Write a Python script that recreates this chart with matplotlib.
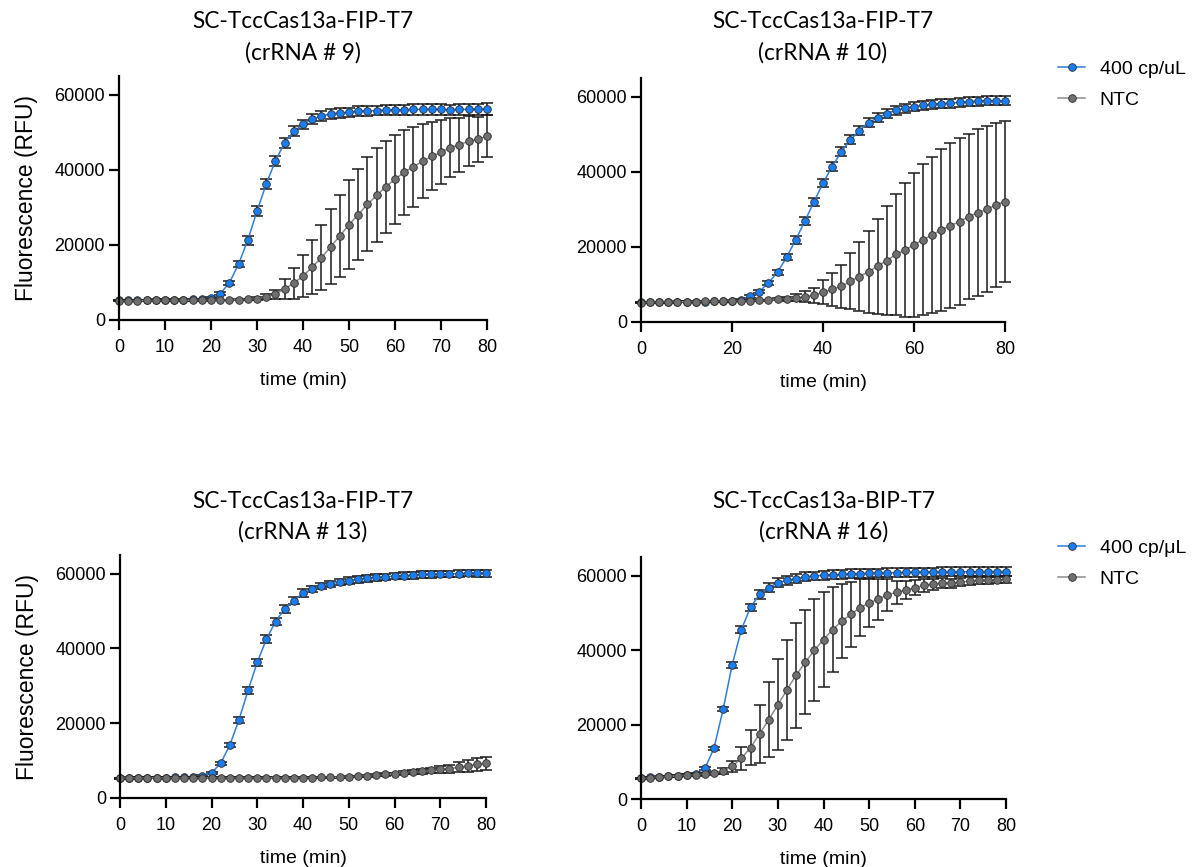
import numpy as np
import matplotlib
matplotlib.use("Agg")
import matplotlib.pyplot as plt
from matplotlib.lines import Line2D

plt.rcParams['font.family'] = ['Liberation Sans', 'DejaVu Sans']

time = list(range(0, 81, 2))

titles = ["SC-TccCas13a-FIP-T7\n(crRNA # 9)",
          "SC-TccCas13a-FIP-T7\n(crRNA # 10)",
          "SC-TccCas13a-FIP-T7\n(crRNA # 13)",
          "SC-TccCas13a-BIP-T7\n(crRNA # 16)"]

# Panel 1
p1_pos = [5200, 5250, 5300, 5300, 5350, 5400, 5400, 5450, 5500, 5550, 5900,
          7000, 9900, 14900, 21300, 29000, 36200, 42400, 47200, 50300, 52100,
          53500, 54300, 54900, 55200, 55300, 55700, 55700, 55800, 56000, 56000,
          56000, 56100, 56100, 56100, 56100, 56000, 56100, 56100, 56100, 56200]
p1_pos_sd = [150] * 11 + [400, 500, 900, 1200, 1300, 1300, 1300, 1300, 1300, 1300,
                          1300, 1300, 1300, 1300, 1300, 1300, 1300, 1300, 1300, 1300,
                          1400, 1400, 1400, 1400, 1400, 1400, 1400, 1500, 1500, 1500]
p1_ntc = [5100, 5150, 5150, 5200, 5200, 5200, 5200, 5250, 5250, 5250, 5300,
          5300, 5350, 5400, 5500, 5700, 6200, 6900, 8300, 9800, 11700,
          14100, 16600, 19500, 22400, 25400, 28100, 30800, 33200, 35500, 37500,
          39400, 40800, 42300, 43600, 44700, 45900, 46700, 47600, 48100, 49000]
p1_ntc_sd = [100] * 15 + [300, 700, 1200, 2700, 4100, 5600, 7200, 8600, 10000, 11000,
                          11900, 12200, 12500, 12500, 12200, 11800, 11300, 10600, 9800, 9100,
                          8500, 7900, 7200, 6700, 6000, 5500]

# Panel 2
p2_pos = [5200, 5250, 5300, 5300, 5350, 5400, 5400, 5450, 5500, 5550, 5650,
          5950, 6850, 8100, 10400, 13250, 17250, 21900, 26850, 32000, 37000,
          41400, 45300, 48500, 51000, 53100, 54400, 55500, 56400, 56900, 57400,
          57700, 58000, 58200, 58300, 58500, 58700, 58800, 59000, 59000, 58900]
p2_pos_sd = [150] * 11 + [300, 400, 500, 600, 700, 800, 1000, 1000, 1100, 1100] + [1200] * 20
p2_ntc = [5150, 5200, 5250, 5300, 5350, 5400, 5450, 5500, 5500, 5550, 5600,
          5650, 5700, 5750, 5850, 6050, 6200, 6500, 6700, 7100, 7900,
          8700, 9500, 10850, 12100, 13400, 14850, 16350, 18000, 19100, 20600,
          21900, 23200, 24500, 25700, 26700, 28100, 29100, 30000, 31200, 32100]
p2_ntc_sd = [100] * 15 + [300, 500, 900, 1500, 2000, 3200, 4400, 5800, 7400, 9200,
                          10900, 12700, 14500, 16200, 17900, 19200, 20100, 20800, 21600, 22000,
                          22300, 22100, 22300, 22100, 21800, 21400]

# Panel 3
p3_pos = [5300, 5350, 5400, 5400, 5450, 5450, 5500, 5500, 5550, 5900, 6750,
          9250, 14150, 20900, 28800, 36300, 42500, 47200, 50600, 52800, 54800,
          55900, 56700, 57250, 57800, 58150, 58500, 58800, 59000, 59100, 59400,
          59500, 59600, 59800, 59800, 59950, 59950, 60000, 60200, 60100, 60100]
p3_pos_sd = [150] * 10 + [300, 400, 500, 800, 1000, 1000, 1000, 1000, 1000, 1000, 1000] + [900] * 20
p3_ntc = [5250, 5350, 5400, 5400, 5400, 5400, 5400, 5400, 5400, 5400, 5400,
          5400, 5400, 5400, 5400, 5400, 5400, 5400, 5400, 5450, 5450,
          5450, 5500, 5500, 5550, 5700, 5800, 5950, 6100, 6300, 6500,
          6700, 6950, 7150, 7400, 7650, 7850, 8200, 8550, 9000, 9300]
p3_ntc_sd = [100] * 26 + [150, 200, 250, 300, 300, 400, 500, 600, 700, 900, 1100, 1300, 1500, 1700, 1800]

# Panel 4
p4_pos = [5530, 5800, 6000, 6100, 6250, 6450, 6700, 8200, 13650, 24100, 36100,
          45500, 51500, 55000, 56800, 58100, 58700, 59200, 59700, 59900, 60100,
          60200, 60300, 60500, 60550, 60650, 60700, 60750, 60800, 60850, 60900,
          60900, 60950, 61000, 61000, 61000, 61050, 61050, 61100, 61100, 61100]
p4_pos_sd = [150] * 7 + [300, 400, 500, 800, 1000, 1000] + [1200] * 28
p4_ntc = [5530, 5700, 5900, 6050, 6250, 6400, 6500, 6700, 6950, 7500, 8750,
          10900, 13800, 17500, 21300, 25300, 29350, 33300, 36700, 40000, 42800,
          45500, 47800, 49600, 51400, 52600, 53700, 54800, 55500, 56100, 56700,
          57400, 57700, 58000, 58000, 58250, 58500, 58700, 58700, 58800, 59000]
p4_ntc_sd = [100, 100, 100, 150, 150, 200, 200, 250, 300, 700, 1500,
             3000, 4800, 7700, 10100, 12200, 13400, 14100, 14000, 13600, 12700,
             11500, 10000, 8800, 7600, 6500, 5500, 4200, 3000, 2500, 2000,
             1700, 1500, 1300, 1200, 1100, 1000, 1000, 900, 900, 900]

panels = [(p1_pos, p1_pos_sd, p1_ntc, p1_ntc_sd),
          (p2_pos, p2_pos_sd, p2_ntc, p2_ntc_sd),
          (p3_pos, p3_pos_sd, p3_ntc, p3_ntc_sd),
          (p4_pos, p4_pos_sd, p4_ntc, p4_ntc_sd)]
xtick_steps = [10, 20, 10, 10]
yticks = [0, 20000, 40000, 60000]

W, H = 1197, 867
fig = plt.figure(figsize=(W / 100, H / 100), dpi=100)

# axes boxes in pixels: left, right, top, bottom
boxes = [(119, 487, 76, 320), (641, 1005, 78, 322),
         (120, 486, 555, 798), (641, 1006, 557, 799)]

BLUE = '#1a7ef2'
GREY = '#6f6f6f'
MS = 5.5

for i, (box, data) in enumerate(zip(boxes, panels)):
    l, r, t, b = box
    ax = fig.add_axes([l / W, 1 - b / H, (r - l) / W, (b - t) / H])
    pos, pos_sd, ntc, ntc_sd = data
    for y, sd, col, lcol, z in [(pos, pos_sd, BLUE, '#2f7fd6', 3), (ntc, ntc_sd, GREY, '#8c8c8c', 5)]:
        eb = ax.errorbar(time, y, yerr=sd, fmt='none', ecolor='#1a1a1a', elinewidth=1.1,
                         capsize=4.5, capthick=1.1, zorder=z)
        for art in eb.lines[1]:
            art.set_clip_on(False)
        for art in eb.lines[2]:
            art.set_clip_on(False)
        ax.plot(time, y, '-', color=lcol, lw=1.1, zorder=z + 0.5, clip_on=False)
        ax.plot(time, y, 'o', color=col, ms=MS, mec='#2a2a2a', mew=0.6,
                zorder=z + 1, clip_on=False, linestyle='none')
    ax.set_xlim(0, 80)
    ax.set_ylim(0, 65000)
    ax.set_xticks(list(range(0, 81, xtick_steps[i])))
    ax.set_yticks(yticks)
    ax.set_yticklabels([str(v) for v in yticks])
    for s in ['top', 'right']:
        ax.spines[s].set_visible(False)
    for s in ['left', 'bottom']:
        ax.spines[s].set_linewidth(1.6)
        ax.spines[s].set_zorder(10)
    ax.tick_params(width=1.6, length=7, labelsize=13, colors='black')
    ax.tick_params(axis='x', pad=7)
    ax.tick_params(axis='y', pad=3)
    ax.set_xlabel('time (min)', fontsize=14, labelpad=11)
    if i in (0, 2):
        ax.set_ylabel('Fluorescence (RFU)', fontsize=16.5, labelpad=12)
    cx = (l + r) / 2 / W
    line1, line2 = titles[i].split('\n')
    fig.text(cx, 1 - 22 / H if i < 2 else 1 - 501 / H, line1, ha='center', va='center',
             fontsize=16.3, family=['Lato', 'DejaVu Sans'])
    fig.text(cx, 1 - 53 / H if i < 2 else 1 - 532 / H, line2, ha='center', va='center',
             fontsize=16.3, family=['Lato', 'DejaVu Sans'])

def legend_handles():
    return [Line2D([0], [0], color='#2f7fd6', lw=1.1, marker='o', ms=MS, mfc=BLUE, mec='#2a2a2a', mew=0.6),
            Line2D([0], [0], color='#8c8c8c', lw=1.1, marker='o', ms=MS, mfc=GREY, mec='#2a2a2a', mew=0.6)]

for labels, ytop in [(['400 cp/uL', 'NTC'], 60), (['400 cp/\u03bcL', 'NTC'], 539)]:
    fig.legend(legend_handles(), labels, loc='upper left',
               bbox_to_anchor=(1058 / W, 1 - ytop / H), frameon=False, fontsize=14,
               handlelength=1.4, handletextpad=0.75, labelspacing=0.72,
               borderpad=0, borderaxespad=0)

fig.savefig('out.png', dpi=100)
